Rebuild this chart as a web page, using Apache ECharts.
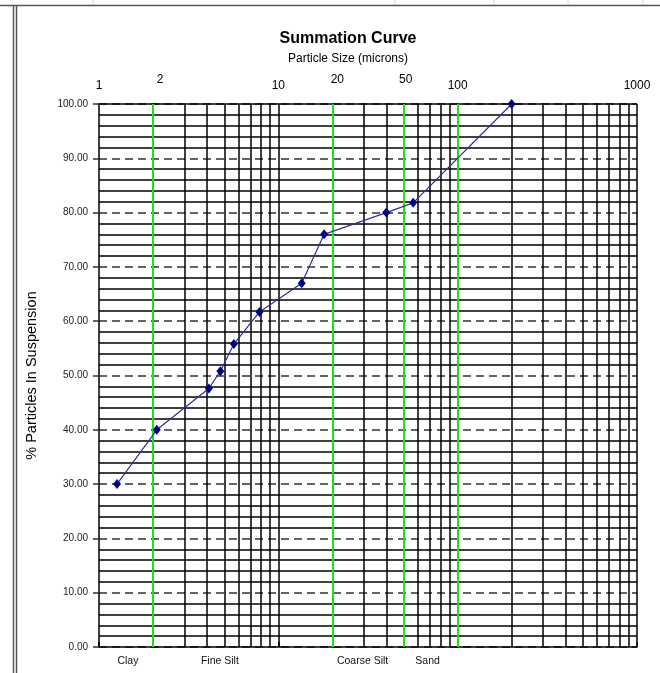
<!DOCTYPE html>
<html>
<head>
<meta charset="utf-8">
<script src="https://cdn.jsdelivr.net/npm/echarts@6/dist/echarts.min.js"></script>
<style>
  html, body { margin: 0; padding: 0; background: #fff; }
  #chart { width: 660px; height: 673px; }
</style>
</head>
<body>
<div id="chart"></div>
<script>
// Cumulative particle-size distribution (sedimentation test)
const particleSize = [1.26, 2.1, 4.1, 4.75, 5.65, 7.85, 13.5, 18, 40, 56.5, 200]; // microns
const suspension   = [30, 40, 47.6, 50.8, 55.8, 61.7, 67, 76, 80, 81.8, 100];     // % in suspension

// Size-class boundaries (green) and the ordinary log-paper rulings (black)
const boundarySizes = [2, 20, 50, 100];
const rulingSizes = [3, 4, 5, 6, 7, 8, 9, 10, 30, 40, 60, 70, 80, 90,
                     200, 300, 400, 500, 600, 700, 800, 900, 1000];

// Extra size labels printed above the boundary lines
const boundaryLabels = [2, 20, 50];

// Size-class names written under the graph, and the size each one sits at
const zoneNames   = ['Clay', 'Fine Silt', 'Coarse Silt', 'Sand'];
const zoneCentres = [1.45, 4.72, 29.5, 68];

const FONT = '"Liberation Sans", Arial, sans-serif';
const chart = echarts.init(document.getElementById('chart'), null, { renderer: 'canvas' });

// small horizontal shifts of the boundary labels, in pixels
const labelNudge = { 2: 7, 20: 5, 50: 2 };

const option = {
  backgroundColor: '#fff',
  animation: false,
  title: {
    text: 'Summation Curve',
    subtext: 'Particle Size (microns)',
    left: 343, textAlign: 'center', top: 26, itemGap: 6,
    textStyle: { fontFamily: FONT, fontWeight: 'bold', fontSize: 16, color: '#000' },
    subtextStyle: { fontFamily: FONT, fontSize: 12, color: '#000' }
  },
  grid: { left: 99, right: 23, top: 104, bottom: 26, containLabel: false },
  xAxis: {
    type: 'log', logBase: 10, min: 1, max: 1000, position: 'top',
    axisLine: { show: true, lineStyle: { color: '#000', width: 1.5 } },
    axisTick: { show: true, inside: false, length: 5, lineStyle: { color: '#000', width: 1.5 } },
    axisLabel: {
      show: true, margin: 12, fontFamily: FONT, fontSize: 12, color: '#000',
      formatter: v => String(Math.round(v))
    },
    splitLine: { show: false },
    minorTick: { show: false },
    minorSplitLine: { show: false }
  },
  yAxis: {
    type: 'value', min: 0, max: 100, interval: 10,
    name: '% Particles In Suspension', nameLocation: 'middle', nameGap: 60, nameRotate: 90,
    nameTextStyle: { fontFamily: FONT, fontSize: 14.5, color: '#000' },
    axisLine: { show: true, lineStyle: { color: '#000', width: 1.5 } },
    axisTick: { show: true, inside: false, length: 6, lineStyle: { color: '#333', width: 1.5 } },
    axisLabel: {
      margin: 11, fontFamily: FONT, fontSize: 10, color: '#222',
      formatter: v => v.toFixed(2)
    },
    splitLine: { show: true, lineStyle: { color: '#333', width: 1.5, type: [8, 5] } },
    minorTick: { show: false, splitNumber: 5 },
    minorSplitLine: { show: true, lineStyle: { color: '#000', width: 1.5 } }
  },
  series: [
    {
      name: 'rulings', type: 'line', data: [], z: 1, silent: true,
      markLine: {
        silent: true, symbol: 'none', animation: false,
        label: { show: false },
        lineStyle: { color: '#000', width: 1.5, type: 'solid' },
        // vertical log rulings plus the solid top edge at 100 %
        data: rulingSizes.map(v => ({ xAxis: v })).concat([{ yAxis: 100 }])
      }
    },
    {
      name: 'boundaries', type: 'line', data: [], z: 2, silent: true,
      markLine: {
        silent: true, symbol: 'none', animation: false,
        label: { show: false },
        lineStyle: { color: '#22dd22', width: 2, type: 'solid' },
        data: boundarySizes.map(v => ({ xAxis: v }))
      }
    },
    {
      name: 'boundary labels', type: 'scatter', z: 8, silent: true,
      symbolSize: 1, itemStyle: { color: 'rgba(0,0,0,0)' },
      data: boundaryLabels.map(v => ({
        value: [v, 100],
        label: { offset: [labelNudge[v] || 0, 0] }
      })),
      label: {
        show: true, position: 'top', distance: 18,
        fontFamily: FONT, fontSize: 12, color: '#000', opacity: 1,
        formatter: p => String(p.value[0])
      }
    },
    {
      name: 'zones', type: 'scatter', z: 8, silent: true,
      symbolSize: 1, itemStyle: { color: 'rgba(0,0,0,0)' },
      data: zoneCentres.map((v, i) => ({ value: [v, 0], name: zoneNames[i] })),
      label: {
        show: true, position: 'bottom', distance: 8,
        fontFamily: FONT, fontSize: 10.5, color: '#111', opacity: 1,
        formatter: p => p.name
      }
    },
    {
      name: 'Summation Curve', type: 'line', z: 5,
      data: particleSize.map((s, i) => [s, suspension[i]]),
      lineStyle: { color: '#30309a', width: 1.2 },
      itemStyle: { color: '#000080' },
      symbol: 'diamond', symbolSize: [8, 10], showSymbol: true
    }
  ],
  graphic: [
    // worksheet cells visible above the chart frame
    ...[93, 395, 494, 568, 643].map(x => ({
      type: 'line', shape: { x1: x, y1: 0, x2: x, y2: 5 },
      style: { stroke: '#d8d8d8', lineWidth: 1 }, silent: true
    })),
    // chart frame
    { type: 'line', shape: { x1: 0, y1: 5.5, x2: 660, y2: 5.5 }, style: { stroke: '#555', lineWidth: 1.5 }, silent: true },
    { type: 'line', shape: { x1: 13.5, y1: 5, x2: 13.5, y2: 673 }, style: { stroke: '#555', lineWidth: 1.5 }, silent: true },
    { type: 'line', shape: { x1: 16.5, y1: 5, x2: 16.5, y2: 673 }, style: { stroke: '#555', lineWidth: 1.5 }, silent: true }
  ]
};

chart.setOption(option);
</script>
</body>
</html>
